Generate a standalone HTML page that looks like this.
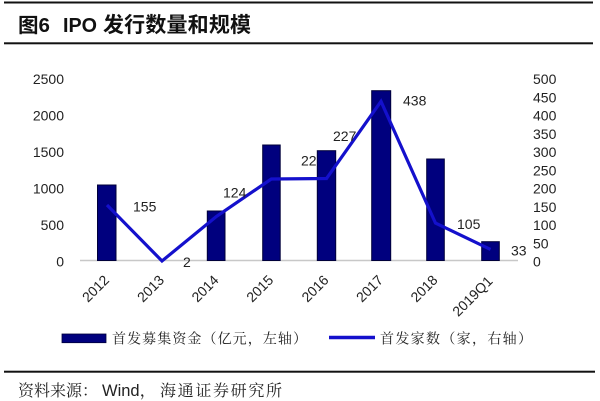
<!DOCTYPE html>
<html><head><meta charset="utf-8"><style>
html,body{margin:0;padding:0;background:#fff;}
svg{display:block;}
</style></head><body>
<svg width="600" height="401" viewBox="0 0 600 401" xmlns="http://www.w3.org/2000/svg">
<rect x="0" y="0" width="600" height="401" fill="#fff"/>
<!-- header lines -->
<rect x="4" y="1.5" width="589" height="2" fill="#111"/>
<rect x="4" y="42.3" width="589" height="2" fill="#111"/>
<rect x="4" y="370.7" width="591" height="2" fill="#111"/>
<!-- title -->
<g font-family="'Liberation Sans','Noto Sans CJK SC',sans-serif" font-weight="bold" fill="#111" font-size="20">
<text x="18" y="32" textLength="32" lengthAdjust="spacingAndGlyphs">图6</text>
<text x="63" y="32" textLength="34" lengthAdjust="spacingAndGlyphs">IPO</text>
<text x="103" y="32" textLength="148" lengthAdjust="spacing" font-size="21">发行数量和规模</text>
</g>
<!-- axis baseline -->
<line x1="80" y1="260.5" x2="518" y2="260.5" stroke="#c8c8c8" stroke-width="1.5"/>
<!-- left axis labels -->
<g font-family="'Liberation Sans',sans-serif" font-size="14" fill="#222" text-anchor="end">
<text x="64" y="84">2500</text>
<text x="64" y="120.5">2000</text>
<text x="64" y="157">1500</text>
<text x="64" y="193.7">1000</text>
<text x="64" y="230.2">500</text>
<text x="64" y="266.7">0</text>
</g>
<!-- right axis labels -->
<g font-family="'Liberation Sans',sans-serif" font-size="14" fill="#222">
<text x="533" y="84">500</text>
<text x="533" y="102.3">450</text>
<text x="533" y="120.5">400</text>
<text x="533" y="138.8">350</text>
<text x="533" y="157.1">300</text>
<text x="533" y="175.4">250</text>
<text x="533" y="193.6">200</text>
<text x="533" y="211.9">150</text>
<text x="533" y="230.2">100</text>
<text x="533" y="248.4">50</text>
<text x="533" y="266.7">0</text>
</g>
<!-- label hidden behind bar -->
<g font-family="'Liberation Sans',sans-serif" font-size="14" fill="#222">
<text x="301" y="165.7">223</text>
</g>
<!-- bars -->
<g fill="#00007e" stroke="#00003a" stroke-width="1">
<rect x="97.5" y="185" width="18.5" height="75.5"/>
<rect x="207.3" y="211" width="17.7" height="49.5"/>
<rect x="262.7" y="145" width="17.5" height="115.5"/>
<rect x="317.3" y="150.7" width="18.4" height="109.8"/>
<rect x="371.7" y="90.7" width="19" height="169.8"/>
<rect x="426.7" y="159" width="17.6" height="101.5"/>
<rect x="481.7" y="241.7" width="17.6" height="18.8"/>
</g>
<!-- line -->
<polyline points="107,205 162,261 216.5,216.4 271.3,179 326.5,178.5 381,101.4 435.5,223.1 490.5,249.4" fill="none" stroke="#1410cc" stroke-width="3.2" stroke-linejoin="miter"/>
<!-- value labels -->
<g font-family="'Liberation Sans',sans-serif" font-size="14" fill="#222">
<text x="133" y="211.7">155</text>
<text x="183" y="267">2</text>
<text x="223" y="197.7">124</text>
<text x="333" y="141">227</text>
<text x="403" y="105.7">438</text>
<text x="457" y="229">105</text>
<text x="511" y="255.7">33</text>
</g>
<!-- x labels -->
<g font-family="'Liberation Sans',sans-serif" font-size="14" fill="#222" text-anchor="end">
<text transform="translate(110,281) rotate(-45)">2012</text>
<text transform="translate(165,281) rotate(-45)">2013</text>
<text transform="translate(219.5,281) rotate(-45)">2014</text>
<text transform="translate(274.3,281) rotate(-45)">2015</text>
<text transform="translate(329.5,281) rotate(-45)">2016</text>
<text transform="translate(384,281) rotate(-45)">2017</text>
<text transform="translate(438.5,281) rotate(-45)">2018</text>
<text transform="translate(493.5,282) rotate(-45)">2019Q1</text>
</g>
<!-- legend -->
<rect x="62" y="334" width="44" height="8.7" fill="#00007e" stroke="#00003a" stroke-width="0.8"/>
<text x="112" y="343.5" font-family="'Liberation Serif','Noto Serif CJK SC',serif" font-size="14" fill="#222" textLength="195" lengthAdjust="spacing">首发募集资金（亿元，左轴）</text>
<line x1="329" y1="337.5" x2="375" y2="337.5" stroke="#1410cc" stroke-width="3.5"/>
<text x="380" y="343.5" font-family="'Liberation Serif','Noto Serif CJK SC',serif" font-size="14" fill="#222" textLength="152" lengthAdjust="spacing">首发家数（家，右轴）</text>
<!-- source -->
<g font-family="'Liberation Sans','Noto Serif CJK SC',serif" font-size="16" fill="#222">
<text x="18" y="396" textLength="80" lengthAdjust="spacing">资料来源：</text>
<text x="102" y="396" font-size="16.5">Wind，</text>
<text x="160" y="396" textLength="122" lengthAdjust="spacing">海通证券研究所</text>
</g>
</svg>
</body></html>
